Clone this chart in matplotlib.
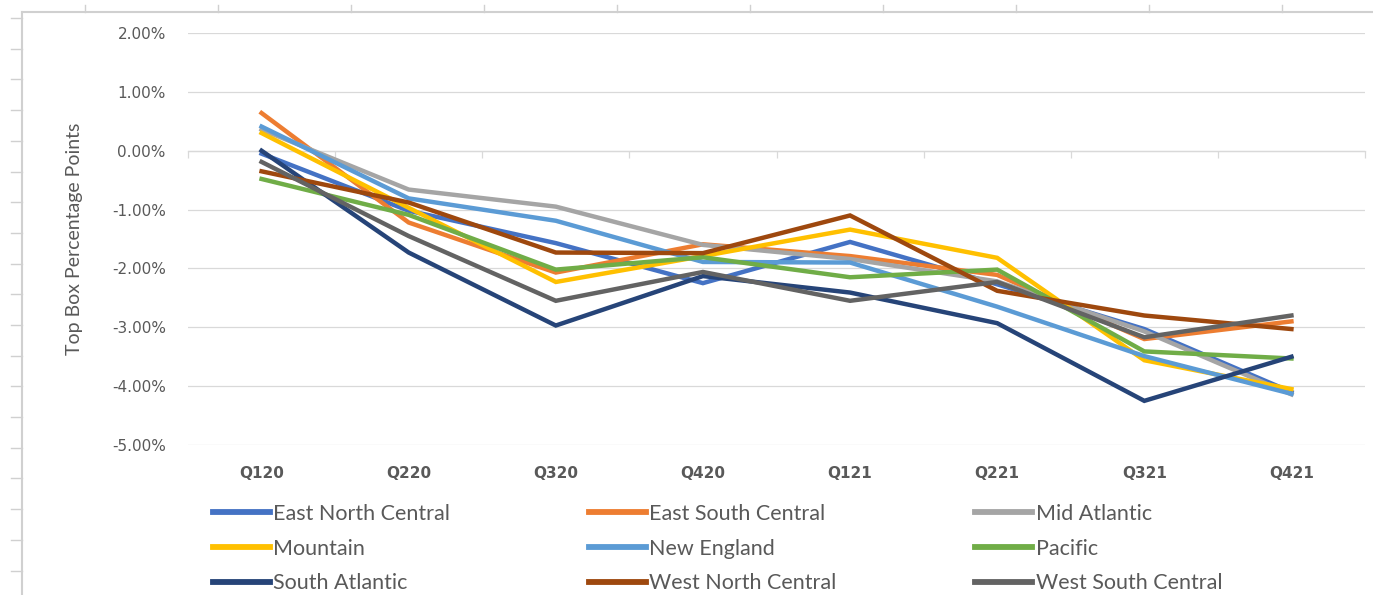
import matplotlib.pyplot as plt
from matplotlib.lines import Line2D
from matplotlib.ticker import FuncFormatter, FixedLocator

quarters = ["Q120", "Q220", "Q320", "Q420", "Q121", "Q221", "Q321", "Q421"]

# change in top box share, percentage points
east_north_central = [-0.05, -1.02, -1.57, -2.25, -1.55, -2.27, -3.03, -4.10]
east_south_central = [0.64, -1.22, -2.07, -1.59, -1.79, -2.11, -3.20, -2.90]
mid_atlantic = [0.36, -0.66, -0.95, -1.60, -1.84, -2.22, -3.07, -4.14]
mountain = [0.30, -0.97, -2.23, -1.79, -1.34, -1.82, -3.56, -4.05]
new_england = [0.41, -0.81, -1.19, -1.89, -1.90, -2.65, -3.49, -4.13]
pacific = [-0.48, -1.09, -2.02, -1.81, -2.15, -2.02, -3.41, -3.53]
south_atlantic = [0.00, -1.73, -2.97, -2.13, -2.41, -2.93, -4.25, -3.50]
west_north_central = [-0.35, -0.88, -1.73, -1.74, -1.10, -2.38, -2.80, -3.03]
west_south_central = [-0.19, -1.45, -2.55, -2.06, -2.55, -2.23, -3.17, -2.80]

series = [
    ("East North Central", east_north_central, "#4472C4"),
    ("East South Central", east_south_central, "#ED7D31"),
    ("Mid Atlantic", mid_atlantic, "#A5A5A5"),
    ("Mountain", mountain, "#FFC000"),
    ("New England", new_england, "#5B9BD5"),
    ("Pacific", pacific, "#70AD47"),
    ("South Atlantic", south_atlantic, "#264478"),
    ("West North Central", west_north_central, "#9E480E"),
    ("West South Central", west_south_central, "#636363"),
]

grid_c = "#D9D9D9"
text_c = "#595959"
narrow = ["Lato", "DejaVu Sans"]

fig = plt.figure(figsize=(13.73, 5.95), dpi=100)
ax = fig.add_axes([188 / 1373, 1 - 445 / 595, (1365 - 188) / 1373, (445 - 33) / 595])

x = list(range(len(quarters)))
lines = []
for name, vals, col in series:
    ln, = ax.plot(x, vals, color=col, lw=3.2, label=name, solid_joinstyle="miter")
    lines.append(ln)

ax.set_xlim(-0.5, len(quarters) - 0.5)
ax.set_ylim(-5, 2)
ax.yaxis.set_major_locator(FixedLocator(range(-5, 3)))
ax.yaxis.set_major_formatter(FuncFormatter(lambda v, p: f"{v:.2f}%"))
ax.grid(axis="y", color=grid_c, lw=0.9)
ax.set_axisbelow(True)
for s in ax.spines.values():
    s.set_visible(False)

ax.set_xticks(x)
ax.set_xticklabels(quarters, fontweight="bold", fontsize=11, color=text_c)
ax.tick_params(axis="x", length=0, pad=15)
ax.tick_params(axis="y", length=0, pad=16, labelsize=11, labelcolor=text_c)

ax.set_ylabel("Top Box Percentage Points", family=narrow, fontsize=14,
              color=text_c, labelpad=21)

# category axis crossing at zero, tick marks between categories
zero_axis = ax.secondary_xaxis(0, transform=ax.transData)
zero_axis.set_xticks([i - 0.5 for i in range(len(quarters) + 1)])
zero_axis.set_xticklabels([])
zero_axis.tick_params(length=5, width=0.9, color=grid_c)
zero_axis.spines["bottom"].set_color(grid_c)
zero_axis.spines["bottom"].set_linewidth(0.9)

# legend filled row by row, three per row
order = [0, 3, 6, 1, 4, 7, 2, 5, 8]
leg = ax.legend([lines[i] for i in order], [series[i][0] for i in order],
                loc="upper left", bbox_to_anchor=(213 / 1373, 1 - 504 / 595),
                bbox_transform=fig.transFigure, ncol=3, frameon=False,
                prop={"family": narrow, "size": 15.5}, labelcolor=text_c,
                handlelength=2.65, handletextpad=0.15, columnspacing=6.45,
                labelspacing=0.68, borderaxespad=0, borderpad=0)
for h in leg.get_lines():
    h.set_linewidth(4.2)

# sheet frame around the chart
frame_c = "#D0D0D0"
fig.add_artist(Line2D([22 / 1373, 22 / 1373], [0, 1 - 12 / 595], color=frame_c,
                      lw=1.5, transform=fig.transFigure))
fig.add_artist(Line2D([22 / 1373, 1], [1 - 12 / 595, 1 - 12 / 595], color=frame_c,
                      lw=1.5, transform=fig.transFigure))
row_y = 18
while row_y < 595:
    fig.add_artist(Line2D([11 / 1373, 22 / 1373], [1 - row_y / 595] * 2,
                          color=frame_c, lw=1.0, transform=fig.transFigure))
    row_y += 30.7
col_x = 85
while col_x < 1373:
    fig.add_artist(Line2D([col_x / 1373] * 2, [1 - 5 / 595, 1 - 12 / 595],
                          color=frame_c, lw=1.0, transform=fig.transFigure))
    col_x += 133

fig.savefig("out.png", dpi=100)
